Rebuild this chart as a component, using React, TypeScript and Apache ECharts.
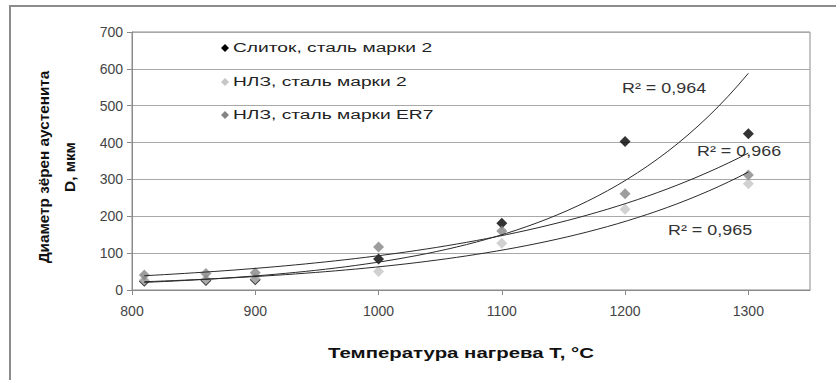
import React, { useEffect, useRef } from "react";
import * as echarts from "echarts";

const temps = [810, 860, 900, 1000, 1100, 1200, 1300];
const ingotSteel2 = [24, 26, 28, 84, 181, 403, 424];
const nlzSteel2 = [27, 29, 31, 50, 127, 219, 288];
const nlzSteelER7 = [41, 45, 47, 117, 160, 261, 312];

const seriesNames = ["Слиток, сталь марки 2", "НЛЗ, сталь марки 2", "НЛЗ, сталь марки ER7"];
const seriesColors = ["#000000", "#c6c6c6", "#858585"];
const r2Labels = ["R² = 0,964", "R² = 0,965", "R² = 0,966"];

const xTicks = { min: 800, max: 1350, interval: 100 };
const yTicks = { min: 0, max: 700, interval: 100 };

const FONT = "'Liberation Sans', Arial, sans-serif";

// Exponential least-squares trendline (as Excel does: fit ln y = ln a + b x)
function expFit(xs: number[], ys: number[]) {
  const n = xs.length;
  const ly = ys.map((v) => Math.log(v));
  const mx = xs.reduce((s, v) => s + v, 0) / n;
  const my = ly.reduce((s, v) => s + v, 0) / n;
  let sxy = 0;
  let sxx = 0;
  for (let i = 0; i < n; i++) {
    sxy += (xs[i] - mx) * (ly[i] - my);
    sxx += (xs[i] - mx) * (xs[i] - mx);
  }
  const b = sxy / sxx;
  const a = Math.exp(my - b * mx);
  return { a, b };
}

function trendPoints(xs: number[], ys: number[]) {
  const { a, b } = expFit(xs, ys);
  const x0 = xs[0];
  const x1 = xs[xs.length - 1];
  const pts: number[][] = [];
  const steps = 60;
  for (let i = 0; i <= steps; i++) {
    const x = x0 + ((x1 - x0) * i) / steps;
    pts.push([x, a * Math.exp(b * x)]);
  }
  return pts;
}

export default function App() {
  const ref = useRef<HTMLDivElement>(null);

  useEffect(() => {
    if (!ref.current) return;
    const chart = echarts.init(ref.current, null, { renderer: "svg" });
    const all = [ingotSteel2, nlzSteel2, nlzSteelER7];

    const scatter = all.map((vals, i) => ({
      name: seriesNames[i],
      type: "scatter",
      symbol: "diamond",
      symbolSize: 11,
      itemStyle: { color: seriesColors[i] },
      data: temps.map((t, j) => [t, vals[j]]),
      z: 3,
    }));

    const trends = all.map((vals, i) => ({
      name: "trend" + i,
      type: "line",
      showSymbol: false,
      symbol: "none",
      smooth: false,
      lineStyle: { color: "#2a2a2a", width: 1 },
      data: trendPoints(temps, vals),
      z: 4,
      silent: true,
    }));

    // legend drawn as graphic (text in the reference is horizontally stretched)
    const legendY = [48, 82, 115];
    const legendItems: any[] = [];
    seriesNames.forEach((name, i) => {
      legendItems.push({
        type: "polygon",
        silent: true,
        x: 225,
        y: legendY[i],
        shape: { points: [[0, -4], [4, 0], [0, 4], [-4, 0]] },
        style: { fill: seriesColors[i] },
      });
      legendItems.push({
        type: "text",
        silent: true,
        x: 233,
        y: legendY[i],
        scaleX: 1.6,
        style: {
          text: name,
          fontFamily: FONT,
          fontSize: 12,
          fill: "#222",
          align: "left",
          verticalAlign: "middle",
        },
      });
    });

    const r2Pos = [
      [622, 88],
      [668, 230],
      [697, 151],
    ];
    const r2Items = r2Labels.map((t, i) => ({
      type: "text",
      silent: true,
      x: r2Pos[i][0],
      y: r2Pos[i][1],
      scaleX: 1.28,
      style: { text: t, fontFamily: FONT, fontSize: 14, fill: "#333", align: "left", verticalAlign: "middle" },
    }));

    const option: any = {
      animation: false,
      backgroundColor: "#ffffff",
      grid: {
        left: 132,
        right: 26,
        top: 32,
        bottom: 90,
        show: true,
        borderColor: "#8a8a8a",
        borderWidth: 1,
      },
      xAxis: {
        type: "value",
        min: xTicks.min,
        max: xTicks.max,
        interval: xTicks.interval,
        axisLine: { show: true, lineStyle: { color: "#8a8a8a", width: 1 } },
        axisTick: { show: true, length: 5, lineStyle: { color: "#8a8a8a" } },
        axisLabel: {
          showMaxLabel: false,
          margin: 14,
          fontFamily: FONT,
          fontSize: 14,
          color: "#444",
          formatter: (v: number) => String(v),
        },
        splitLine: { show: false },
      },
      yAxis: {
        type: "value",
        min: yTicks.min,
        max: yTicks.max,
        interval: yTicks.interval,
        axisLine: { show: true, lineStyle: { color: "#8a8a8a", width: 1 } },
        axisTick: { show: true, length: 5, lineStyle: { color: "#8a8a8a" } },
        axisLabel: {
          margin: 9,
          fontFamily: FONT,
          fontSize: 14,
          color: "#444",
          formatter: (v: number) => String(v),
        },
        splitLine: { show: true, lineStyle: { color: "#a8a8a8", width: 1 } },
      },
      graphic: [
        {
          type: "rect",
          silent: true,
          shape: { x: 10, y: 6, width: 1000, height: 600 },
          style: { fill: "none", stroke: "#8c8c8c", lineWidth: 2 },
          z: 0,
        },
        {
          type: "text",
          silent: true,
          x: 461,
          y: 353,
          scaleX: 1.36,
          style: {
            text: "Температура нагрева Т, °С",
            fontFamily: FONT,
            fontSize: 15,
            fontWeight: "bold",
            fill: "#111",
            align: "center",
            verticalAlign: "middle",
          },
        },
        {
          type: "text",
          silent: true,
          x: 57,
          y: 167,
          rotation: Math.PI / 2,
          scaleX: 1.02,
          style: {
            text: "Диаметр зёрен аустенита\nD, мкм",
            fontFamily: FONT,
            fontSize: 15,
            fontWeight: "bold",
            lineHeight: 26,
            fill: "#111",
            align: "center",
            verticalAlign: "middle",
          },
        },
        ...legendItems,
        ...r2Items,
      ],
      series: [...trends, ...scatter],
    };

    chart.setOption(option);
    return () => chart.dispose();
  }, []);

  return (
    <div
      ref={ref}
      style={{ position: "fixed", left: 0, top: 0, width: 836, height: 380, background: "#fff" }}
    />
  );
}
